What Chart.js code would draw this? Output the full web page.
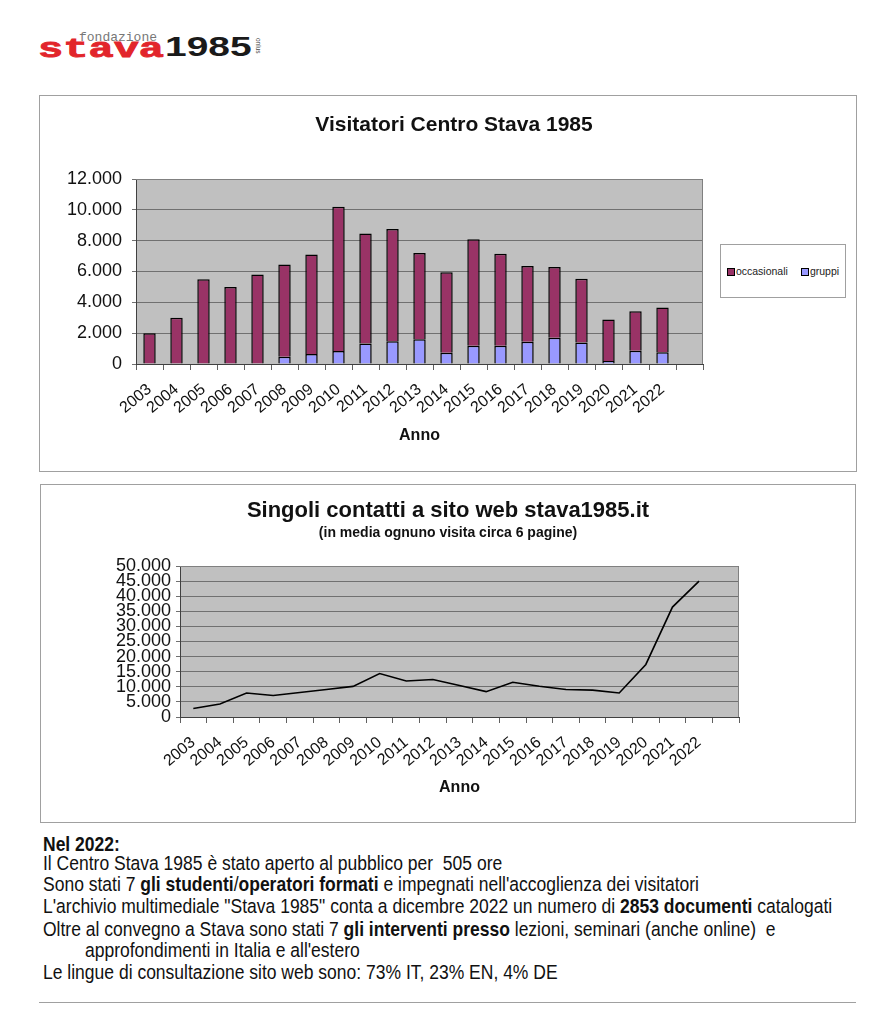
<!DOCTYPE html>
<html>
<head>
<meta charset="utf-8">
<script src="https://cdn.jsdelivr.net/npm/chart.js@4.4.0/dist/chart.umd.min.js"></script>
<style>
  body { margin: 0; background: #fff; font-family: "Liberation Sans", Arial, sans-serif; }
  .abs { position: absolute; white-space: nowrap; line-height: 1; transform-origin: left top; }
  .box { position: absolute; border: 1px solid #a0a0a0; box-sizing: border-box; background: #fff; }
  .inner { position: absolute; left: 0; top: 0; right: 0; bottom: 0; }
  #legend1 { position: absolute; left: 720px; top: 244px; width: 126px; height: 54px; border: 1px solid #a0a0a0;
             box-sizing: border-box; background: #fff; font-size: 10.5px; color: #222;
             display: flex; align-items: center; justify-content: center; gap: 13px; }
  #legend1 span.sw { display: inline-block; width: 6px; height: 6px; border: 1px solid #000; margin-right: 1px; vertical-align: -1px; }
  .note { position: absolute; left: 43px; font-size: 17.5px; line-height: 1; color: #111; white-space: nowrap;
          transform: scale(1, 1.17); transform-origin: left top; }
  #rule { position: absolute; left: 39px; top: 1002px; width: 817px; height: 0; border-top: 1px solid #a0a0a0; }
</style>
</head>
<body>

<!-- logo -->
<div class="abs" style="left:79px;top:31px;font-family:'Liberation Mono',monospace;font-size:13px;color:#777;">fondazione</div>
<div class="abs" style="left:38px;top:37.3px;font-family:'Liberation Mono',monospace;font-weight:bold;font-size:27px;color:#e2252b;transform:scaleX(1.556);-webkit-text-stroke:0.8px #e2252b;">stava</div>
<div class="abs" style="left:165px;top:33.3px;font-family:'Liberation Sans',Arial,sans-serif;font-weight:bold;font-size:28px;color:#1a1a1a;transform:scaleX(1.39);">1985</div>
<div class="abs" style="left:261px;top:38px;font-size:6.5px;color:#444;transform:rotate(90deg);">onlus</div>

<div class="box" style="left:39px;top:95px;width:818px;height:377px;">
  <div class="inner"><canvas id="chart1"></canvas></div>
</div>
<div id="legend1"></div>

<div class="box" style="left:40px;top:484px;width:816px;height:339px;">
  <div class="inner"><canvas id="chart2"></canvas></div>
</div>

<div class="note" style="top:835px;"><b>Nel 2022:</b></div>
<div class="note" style="top:854px;">Il Centro Stava 1985 è stato aperto al pubblico per &nbsp;505 ore</div>
<div class="note" style="top:875px;">Sono stati 7 <b>gli studenti</b>/<b>operatori formati</b> e impegnati nell'accoglienza dei visitatori</div>
<div class="note" style="top:897px;">L'archivio multimediale "Stava 1985" conta a dicembre 2022 un numero di <b>2853 documenti</b> catalogati</div>
<div class="note" style="top:920px;">Oltre al convegno a Stava sono stati 7 <b>gli interventi presso</b> lezioni, seminari (anche online) &nbsp;e</div>
<div class="note" style="top:941px;left:85px;">approfondimenti in Italia e all'estero</div>
<div class="note" style="top:963px;">Le lingue di consultazione sito web sono: 73% IT, 23% EN, 4% DE</div>
<div id="rule"></div>

<script>
// anni sull'asse x
const years = ['2003', '2004', '2005', '2006', '2007', '2008', '2009', '2010', '2011', '2012',
               '2013', '2014', '2015', '2016', '2017', '2018', '2019', '2020', '2021', '2022'];

// visitatori centro (occasionali sopra, gruppi sotto)
const occasionali = [2000, 3000, 5500, 5000, 5800, 5980, 6450, 9350, 7140, 7270,
                     5590, 5220, 6920, 5970, 4910, 4600, 4130, 2680, 2560, 2890];
const gruppi = [0, 0, 0, 0, 0, 470, 650, 850, 1330, 1480,
                1610, 730, 1180, 1180, 1440, 1700, 1400, 200, 860, 770];

// contatti sito web
const contatti = [2800, 4300, 7950, 7100, 8100, 9100, 10150, 14400, 11900, 12400,
                  10400, 8400, 11500, 10200, 9100, 8900, 7950, 17400, 36400, 45000];

// slot vuoto in fondo come nell'originale
const axisLabels = years.concat(['']);

const fmt = v => String(v).replace(/\B(?=(\d{3})+(?!\d))/g, '.');

const FONT = "'Liberation Sans', Arial, sans-serif";

// sfondo grigio + bordo sopra/destra dell'area dati
const plotFrame = {
  id: 'plotFrame',
  beforeDraw(chart) {
    const a = chart.chartArea, ctx = chart.ctx;
    ctx.save();
    ctx.fillStyle = '#c0c0c0';
    ctx.fillRect(a.left, a.top, a.right - a.left, a.bottom - a.top);
    ctx.restore();
  },
  beforeDatasetsDraw(chart) {
    const a = chart.chartArea, ctx = chart.ctx;
    ctx.save();
    ctx.strokeStyle = '#808080';
    ctx.lineWidth = 1;
    ctx.beginPath();
    ctx.moveTo(a.left, a.top + 0.5);
    ctx.lineTo(a.right - 0.5, a.top + 0.5);
    ctx.lineTo(a.right - 0.5, a.bottom);
    ctx.stroke();
    ctx.restore();
  }
};

function xAxis(height, titlePadBottom) {
  return {
    offset: true,
    grid: { offset: true, drawOnChartArea: false, drawTicks: true, tickLength: 6, color: '#606060' },
    border: { color: '#404040', width: 1 },
    ticks: { autoSkip: false, maxRotation: 40, minRotation: 40, padding: 10, color: '#111',
             font: { family: FONT, size: 16 } },
    title: { display: true, text: 'Anno', color: '#111', padding: { top: 0, bottom: titlePadBottom },
             font: { family: FONT, size: 16, weight: 'bold' } },
    afterFit(scale) { scale.height = height; }
  };
}

// asse vuoto a destra: tiene libero lo spazio (legenda) senza spostare il titolo
function spacer(width) {
  return {
    position: 'right',
    display: true,
    grid: { display: false },
    border: { display: false },
    ticks: { display: false },
    afterFit(scale) { scale.width = width; }
  };
}

Chart.defaults.animation = false;

const chart1 = new Chart(document.getElementById('chart1'), {
  type: 'bar',
  plugins: [plotFrame],
  data: {
    labels: axisLabels,
    datasets: [
      { label: 'gruppi', data: gruppi, backgroundColor: '#9999ff', borderColor: '#000', borderWidth: 1.5,
        categoryPercentage: 1, barPercentage: 0.46 },
      { label: 'occasionali', data: occasionali, backgroundColor: '#993366', borderColor: '#000', borderWidth: 1.5,
        categoryPercentage: 1, barPercentage: 0.46 }
    ]
  },
  options: {
    responsive: true,
    maintainAspectRatio: false,
    layout: { padding: { left: 12, right: 0, top: 0, bottom: 0 } },
    plugins: {
      legend: { display: false },
      tooltip: { enabled: false },
      title: { display: true, text: 'Visitatori Centro Stava 1985', color: '#111',
               font: { family: FONT, size: 21, weight: 'bold' }, padding: { top: 16.4, bottom: 41.4 } }
    },
    scales: {
      x: Object.assign(xAxis(107, 25.4), { stacked: true }),
      y: {
        stacked: true,
        min: 0, max: 12000,
        ticks: { stepSize: 2000, padding: 10, color: '#111', font: { family: FONT, size: 18 },
                 callback: v => fmt(v) },
        grid: { color: '#707070', tickLength: 4, lineWidth: 1 },
        border: { color: '#404040', width: 1 },
        afterFit(scale) { scale.width = 84; }
      },
      pad: spacer(153)
    }
  }
});

// legenda a parte, nel riquadro a destra
const leg = document.getElementById('legend1');
chart1.data.datasets.slice().reverse().forEach(ds => {
  const item = document.createElement('span');
  item.innerHTML = '<span class="sw" style="background:' + ds.backgroundColor + '"></span>' + ds.label;
  leg.appendChild(item);
});

new Chart(document.getElementById('chart2'), {
  type: 'line',
  plugins: [plotFrame],
  data: {
    labels: axisLabels,
    datasets: [
      { label: 'contatti', data: contatti, borderColor: '#000', borderWidth: 1.6, pointRadius: 0,
        tension: 0, fill: false }
    ]
  },
  options: {
    responsive: true,
    maintainAspectRatio: false,
    layout: { padding: { left: 0, right: 0, top: 0, bottom: 0 } },
    plugins: {
      legend: { display: false },
      tooltip: { enabled: false },
      title: { display: true, text: 'Singoli contatti a sito web stava1985.it', color: '#111',
               font: { family: FONT, size: 22, weight: 'bold' }, padding: { top: 13, bottom: 0 } },
      subtitle: { display: true, text: '(in media ognuno visita circa 6 pagine)', color: '#111',
                  font: { family: FONT, size: 14, weight: 'bold' }, padding: { top: 0, bottom: 24.8 } }
    },
    scales: {
      x: xAxis(105, 24.4),
      y: {
        min: 0, max: 50000,
        ticks: { stepSize: 5000, autoSkip: false, padding: 5, color: '#111', font: { family: FONT, size: 18 },
                 callback: v => fmt(v) },
        grid: { color: '#707070', tickLength: 4, lineWidth: 1 },
        border: { color: '#404040', width: 1 },
        afterFit(scale) { scale.width = 139; }
      },
      pad: spacer(116)
    }
  }
});
</script>
</body>
</html>
